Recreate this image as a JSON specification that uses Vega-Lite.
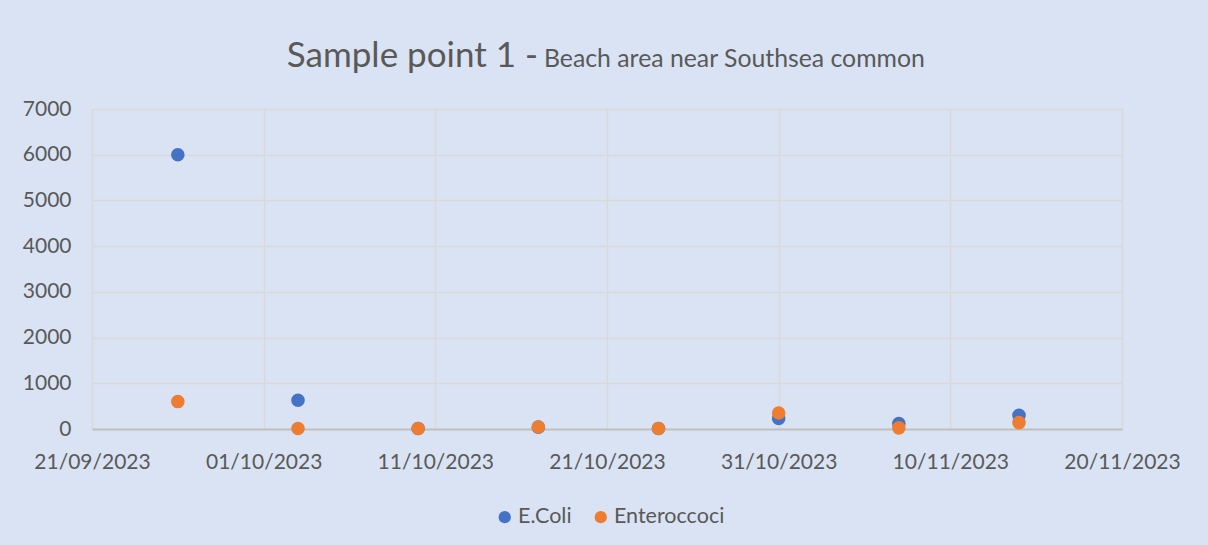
{
  "$schema": "https://vega.github.io/schema/vega-lite/v6.json",
  "autosize": {"type": "none"},
  "width": 1030,
  "height": 320,
  "padding": {"left": 92, "top": 109, "right": 86, "bottom": 116},
  "background": "#DAE3F3",
  "title": {
    "text": "Sample point 1 -",
    "subtitle": "Beach area near Southsea common",
    "anchor": "middle",
    "frame": "group",
    "font": "Lato",
    "fontSize": 35,
    "fontWeight": "normal",
    "color": "#595959",
    "subtitleFont": "Lato",
    "subtitleFontSize": 24.8,
    "subtitleColor": "#595959",
    "subtitlePadding": -27,
    "align": "left",
    "dx": -63,
    "offset": 24,
    "encoding": {"align": {"value": "right"}, "dx": {"value": -69}}
  },
  "data": {
    "values": [
      {"date": "2023-09-26", "series": "E.Coli", "value": 6000},
      {"date": "2023-10-03", "series": "E.Coli", "value": 630},
      {"date": "2023-10-10", "series": "E.Coli", "value": 10},
      {"date": "2023-10-17", "series": "E.Coli", "value": 40},
      {"date": "2023-10-24", "series": "E.Coli", "value": 10},
      {"date": "2023-10-31", "series": "E.Coli", "value": 230},
      {"date": "2023-11-07", "series": "E.Coli", "value": 120},
      {"date": "2023-11-14", "series": "E.Coli", "value": 300},
      {"date": "2023-09-26", "series": "Enteroccoci", "value": 600},
      {"date": "2023-10-03", "series": "Enteroccoci", "value": 10},
      {"date": "2023-10-10", "series": "Enteroccoci", "value": 10},
      {"date": "2023-10-17", "series": "Enteroccoci", "value": 45},
      {"date": "2023-10-24", "series": "Enteroccoci", "value": 10},
      {"date": "2023-10-31", "series": "Enteroccoci", "value": 350},
      {"date": "2023-11-07", "series": "Enteroccoci", "value": 25},
      {"date": "2023-11-14", "series": "Enteroccoci", "value": 140}
    ]
  },
  "mark": {"type": "point", "filled": true, "opacity": 1, "size": 185, "shape": "circle"},
  "encoding": {
    "x": {
      "field": "date",
      "type": "temporal",
      "scale": {
        "type": "utc",
        "domain": [
          {"year": 2023, "month": 9, "date": 21, "utc": true},
          {"year": 2023, "month": 11, "date": 20, "utc": true}
        ],
        "nice": false
      },
      "axis": {
        "title": null,
        "labelExpr": "utcFormat(datum.value, '%d/%m/%Y')",
        "values": [
          {"year": 2023, "month": 9, "date": 21, "utc": true},
          {"year": 2023, "month": 10, "date": 1, "utc": true},
          {"year": 2023, "month": 10, "date": 11, "utc": true},
          {"year": 2023, "month": 10, "date": 21, "utc": true},
          {"year": 2023, "month": 10, "date": 31, "utc": true},
          {"year": 2023, "month": 11, "date": 10, "utc": true},
          {"year": 2023, "month": 11, "date": 20, "utc": true}
        ],
        "domain": true,
        "domainColor": "#BFBFBF",
        "domainWidth": 2,
        "labelPadding": 22,
        "labelFlush": false,
        "labelOverlap": false
      }
    },
    "y": {
      "field": "value",
      "type": "quantitative",
      "scale": {"domain": [0, 7000], "nice": false},
      "axis": {
        "title": null,
        "values": [0, 1000, 2000, 3000, 4000, 5000, 6000, 7000],
        "format": "d",
        "domain": false,
        "labelPadding": 21
      }
    },
    "color": {
      "field": "series",
      "type": "nominal",
      "scale": {"domain": ["E.Coli", "Enteroccoci"], "range": ["#4472C4", "#ED7D31"]},
      "legend": {
        "title": null,
        "orient": "none",
        "direction": "horizontal",
        "legendX": 402,
        "legendY": 397,
        "symbolType": "circle",
        "symbolSize": 150,
        "symbolOpacity": 1,
        "labelFont": "Lato",
        "labelFontSize": 21.5,
        "labelColor": "#595959",
        "labelOffset": 2.5,
        "columnPadding": 18
      }
    }
  },
  "config": {
    "view": {"stroke": null},
    "axis": {
      "labelFont": "Lato",
      "labelFontSize": 21,
      "labelColor": "#595959",
      "ticks": false,
      "grid": true,
      "gridColor": "#D9D9D9",
      "gridWidth": 1.5
    }
  }
}
